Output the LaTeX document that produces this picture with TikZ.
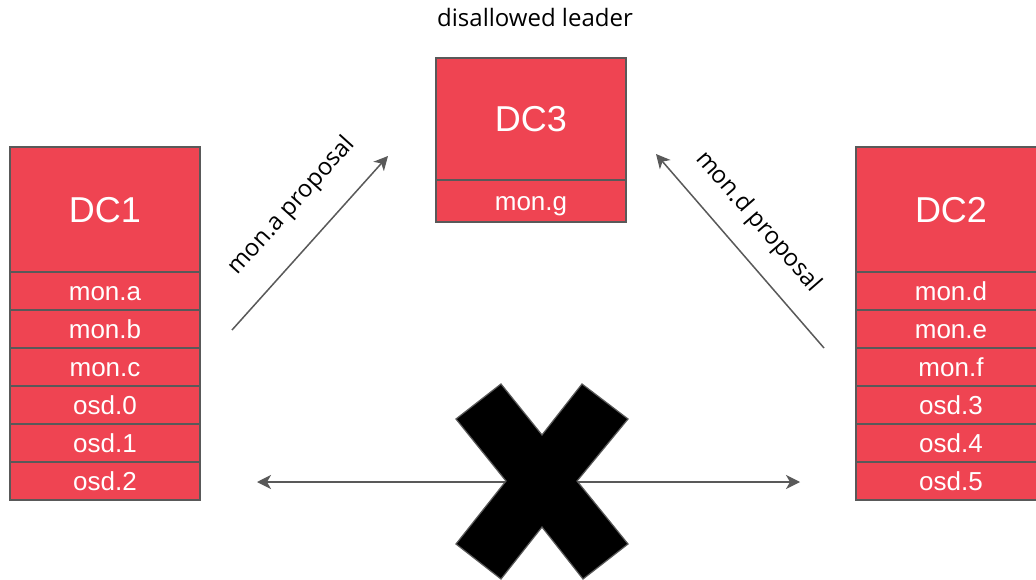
\documentclass[tikz,border=0pt]{standalone}
\usepackage{fontspec}
\setmainfont{Liberation Sans}
\newfontfamily\notefont{Open Sans}
\usetikzlibrary{arrows.meta}
\definecolor{dcred}{HTML}{EF4452}
\definecolor{edgegray}{HTML}{595959}
\tikzset{
  dchead/.style={draw=edgegray, line width=1.5pt, fill=dcred, text=white,
    minimum width=190pt, minimum height=#1, inner sep=0pt,
    text height=25.8pt, text depth=0pt,
    font=\fontsize{36}{40}\selectfont},
  dcrow/.style={draw=edgegray, line width=1.5pt, fill=dcred, text=white,
    minimum width=190pt, minimum height=38pt, inner sep=0pt,
    text height=18.6pt, text depth=0pt,
    font=\fontsize{26}{30}\selectfont},
  conn/.style={draw=edgegray, line width=1.5pt,
    -{Stealth[length=14pt,width=14pt,inset=4pt]}},
  biconn/.style={draw=edgegray, line width=1.5pt,
    {Stealth[length=14pt,width=14pt,inset=4pt]}-{Stealth[length=14pt,width=14pt,inset=4pt]}},
  note/.style={font=\notefont\fontsize{24}{28}\selectfont, text=black, inner sep=0pt}
}
\begin{document}
\begin{tikzpicture}[x=1pt,y=-1pt]
\clip (0,0) rectangle (1036,580);
\fill[white] (0,0) rectangle (1036,580);

% DC1 column
\node[dchead=125pt] (dc1) at (105,209.5) {DC1};
\node[dcrow] (dc1a) at (105,291) {mon.a};
\node[dcrow] (dc1b) at (105,329) {mon.b};
\node[dcrow] (dc1c) at (105,367) {mon.c};
\node[dcrow] (dc1d) at (105,405) {osd.0};
\node[dcrow] (dc1e) at (105,443) {osd.1};
\node[dcrow] (dc1f) at (105,481) {osd.2};

% DC2 column
\node[dchead=125pt] (dc2) at (951,209.5) {DC2};
\node[dcrow] (dc2a) at (951,291) {mon.d};
\node[dcrow] (dc2b) at (951,329) {mon.e};
\node[dcrow] (dc2c) at (951,367) {mon.f};
\node[dcrow] (dc2d) at (951,405) {osd.3};
\node[dcrow] (dc2e) at (951,443) {osd.4};
\node[dcrow] (dc2f) at (951,481) {osd.5};

% DC3 column
\node[dchead=122pt] (dc3) at (531,119) {DC3};
\node[dcrow, minimum height=42pt] (dc3a) at (531,201) {mon.g};
\node[note] (lead) at (535,18) {disallowed leader};

% proposals towards DC3
\coordinate (pa0) at (232,330);
\coordinate (pa1) at (388,156);
\coordinate (pd0) at (824,348);
\coordinate (pd1) at (656,154);
\draw[conn] (pa0) -- (pa1);
\draw[conn] (pd0) -- (pd1);
\node[note, rotate=48] (la) at (292,206) {mon.a proposal};
\node[note, rotate=-49] (ld) at (758,222) {mon.d proposal};

% broken link between DC1 and DC2
\coordinate (hl) at (257,482);
\coordinate (hr) at (800,482);
\draw[biconn] (hl) -- (hr);
\filldraw[fill=black, draw=edgegray, line width=1.2pt, line join=miter]
  (456,419) -- (501,384) -- (542,435) -- (582,384) -- (628,419) -- (577,481)
  -- (628,544) -- (583,579) -- (542,527) -- (501,579) -- (456,544) -- (506,481)
  -- cycle;
\end{tikzpicture}
\end{document}
